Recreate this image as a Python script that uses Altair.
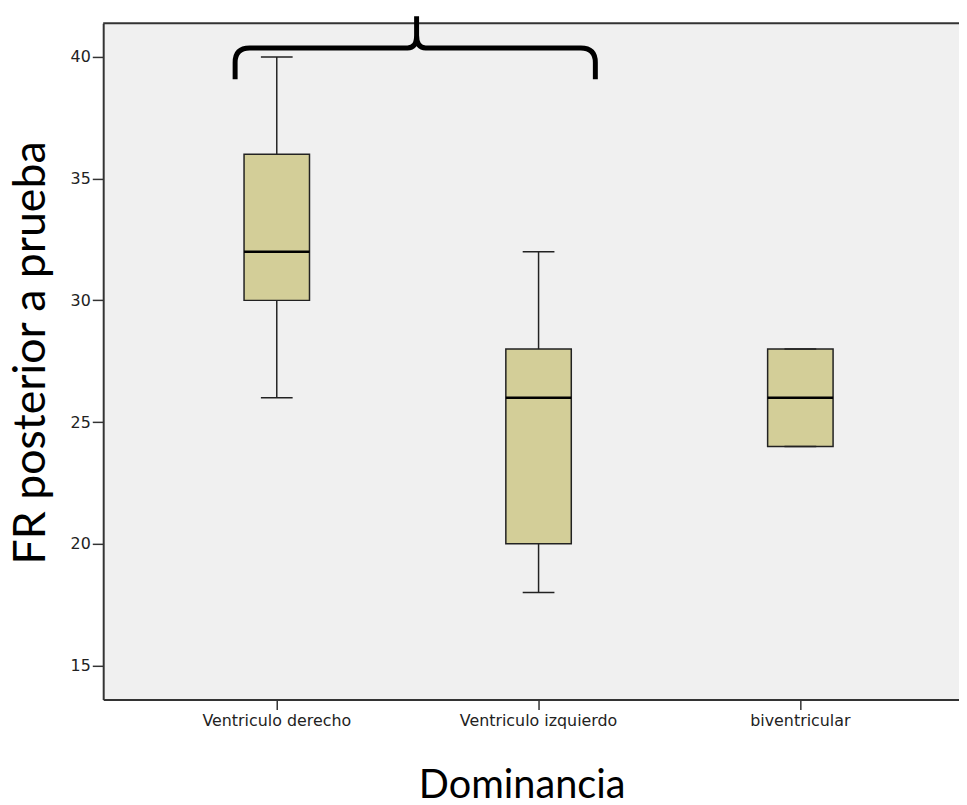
import altair as alt
import pandas as pd

categories = ["Ventriculo derecho", "Ventriculo izquierdo", "biventricular"]
mins = [26, 18, 24]
q1s = [30, 20, 24]
medians = [32, 26, 26]
q3s = [36, 28, 28]
maxs = [40, 32, 28]

y_ticks = [15, 20, 25, 30, 35, 40]
y_title = "FR posterior a prueba"
x_title = "Dominancia"

df = pd.DataFrame({"cat": categories, "lo": mins, "q1": q1s, "med": medians,
                   "q3": q3s, "hi": maxs})

# brace annotation (spanning the first two groups)
brace_df = pd.DataFrame({"cat": [categories[0]], "level": [40.37]})
brace_path = ("M -1 0.173 L -1 0.08 Q -1 0 -0.92 0 L -0.05 0 Q 0 0 0 -0.07 L 0 -0.175 "
              "M 0 -0.07 Q 0 0 0.05 0 L 0.905 0 Q 0.985 0 0.985 0.08 L 0.985 0.173")

W, H = 863, 682
YDOM = [13.603, 41.385]

xenc = alt.X("cat:N", sort=categories,
             scale=alt.Scale(type="band", paddingInner=0, paddingOuter=0.1345, align=0.606),
             axis=alt.Axis(title=x_title, labelAngle=0, labelFont="DejaVu Sans", labelFontSize=16,
                           labelColor="#222", labelPadding=3, tickSize=10, tickColor="#333",
                           tickWidth=1.5, domainColor="#333", domainWidth=2,
                           titleFont="Lato", titleFontSize=40, titleFontWeight="normal",
                           titleColor="#000", titleX=422, titleY=99, titleAlign="center",
                           titleBaseline="alphabetic", titleAnchor="start"))

yscale = alt.Scale(domain=YDOM, nice=False, zero=False)
yaxis = alt.Axis(title=y_title, values=y_ticks, grid=False, labelFont="DejaVu Sans",
                 labelFontSize=16, labelColor="#222", labelPadding=2, tickSize=11,
                 tickColor="#333", tickWidth=1.5, domainColor="#333", domainWidth=2,
                 titleFont="Lato", titleFontSize=45, titleFontWeight="normal", titleColor="#000",
                 titleAngle=270, titleX=-59, titleY=332, titleAlign="center",
                 titleBaseline="alphabetic", titleAnchor="start")

base = alt.Chart(df)

whisk_lo = base.mark_rule(color="#222", strokeWidth=1.5).encode(
    x=xenc, y=alt.Y("lo:Q", scale=yscale, axis=yaxis), y2="q1:Q")
whisk_hi = base.mark_rule(color="#222", strokeWidth=1.5).encode(
    x=xenc, y=alt.Y("q3:Q", scale=yscale, axis=yaxis), y2="hi:Q")
box = base.mark_bar(size=66, fill="#D3CE98", stroke="#222", strokeWidth=1.5).encode(
    x=xenc, y=alt.Y("q1:Q", scale=yscale, axis=yaxis), y2="q3:Q")
med = base.mark_tick(size=66, thickness=2.5, color="#000", orient="horizontal", opacity=1).encode(
    x=xenc, y=alt.Y("med:Q", scale=yscale, axis=yaxis))
cap_lo = base.mark_tick(size=32, thickness=1.5, color="#222", orient="horizontal", opacity=1).encode(
    x=xenc, y=alt.Y("lo:Q", scale=yscale, axis=yaxis))
cap_hi = base.mark_tick(size=32, thickness=1.5, color="#222", orient="horizontal", opacity=1).encode(
    x=xenc, y=alt.Y("hi:Q", scale=yscale, axis=yaxis))

top_border = alt.Chart(pd.DataFrame({"a": [0]})).mark_rule(color="#333", strokeWidth=2).encode(
    y=alt.value(0))

brace = alt.Chart(brace_df).mark_point(shape=brace_path, size=366 * 366, filled=False,
                                        stroke="#000", strokeWidth=5, opacity=1,
                                        xOffset=141, strokeCap="butt").encode(
    x=xenc, y=alt.Y("level:Q", scale=yscale, axis=yaxis))

chart = alt.layer(whisk_lo, whisk_hi, box, med, cap_lo, cap_hi, top_border, brace).properties(
    width=W, height=H,
    autosize=alt.AutoSizeParams(type="none"),
    padding={"left": 96, "top": 12, "right": 0, "bottom": 103},
    background="#ffffff",
).configure_view(fill="#F0F0F0", strokeWidth=0)

chart.save("out.html", embed_options={"renderer": "svg", "actions": False})
